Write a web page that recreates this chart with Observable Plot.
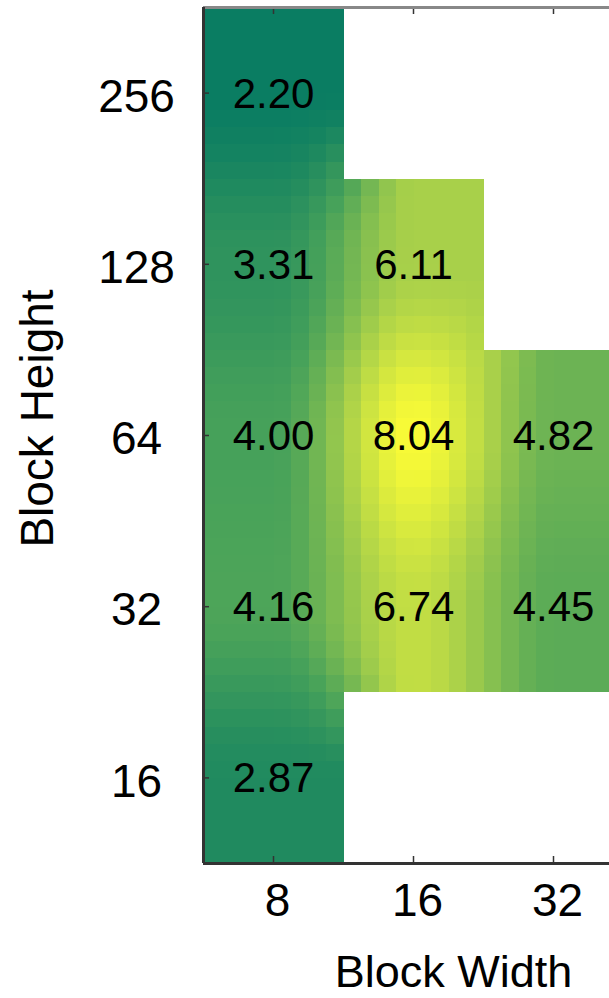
<!DOCTYPE html>
<html>
<head>
<meta charset="utf-8">
<script src="https://cdn.jsdelivr.net/npm/d3@7"></script>
<script src="https://cdn.jsdelivr.net/npm/@observablehq/plot@0.6"></script>
<style>
html, body { margin: 0; padding: 0; background: #fff; overflow: hidden; }
#chart { width: 609px; height: 998px; overflow: hidden; }
</style>
</head>
<body>
<div id="chart"></div>
<script>
// Tick labels
const widthTicks = [8, 16, 32];
const heightTicks = [16, 32, 64, 128, 256];
// Heatmap cells (block width × block height → value)
const blockWidth  = [8, 8, 16, 8, 16, 32, 8, 16, 32, 8];
const blockHeight = [256, 128, 128, 64, 64, 64, 32, 32, 32, 16];
const speedup     = [2.20, 3.31, 6.11, 4.00, 8.04, 4.82, 4.16, 6.74, 4.45, 2.87];
// Colour map stops
const colorStops = [2.2, 4.0, 6.11, 8.04];
const colorRange = ["#0a7d62", "#46a15a", "#a8d04a", "#f9fb36"];

const cells = blockWidth.map((w, i) => ({w, h: blockHeight[i], v: speedup[i]}));
const lookup = new Map(cells.map(d => [`${Math.log2(d.w)},${Math.log2(d.h)}`, d.v]));
const get = (i, j) => lookup.get(`${i},${j}`);
const [lxMin, lxMax] = d3.extent(widthTicks, Math.log2);
const [lyMin, lyMax] = d3.extent(heightTicks, Math.log2);
const ease = t => t * t * (3 - 2 * t);

// smooth shading between cell centres, blank where no cell exists
function shade(w, h) {
  const lx = Math.log2(w), ly = Math.log2(h);
  if (get(Math.round(lx), Math.round(ly)) === undefined) return NaN;
  const cx = Math.max(lxMin, Math.min(lxMax, lx));
  const cy = Math.max(lyMin, Math.min(lyMax, ly));
  const x0 = Math.min(Math.floor(cx), lxMax - 1), y0 = Math.min(Math.floor(cy), lyMax - 1);
  const fx = ease(cx - x0), fy = ease(cy - y0);
  let s = 0, ws = 0;
  for (const [i, j, wt] of [[x0, y0, (1 - fx) * (1 - fy)], [x0 + 1, y0, fx * (1 - fy)], [x0, y0 + 1, (1 - fx) * fy], [x0 + 1, y0 + 1, fx * fy]]) {
    const v = get(i, j);
    if (v !== undefined && wt > 0) { s += v * wt; ws += wt; }
  }
  return ws > 0 ? s / ws : NaN;
}

const S = Math.SQRT2;
const xDomain = [widthTicks[0] / S, widthTicks[widthTicks.length - 1] * S];
const yDomain = [heightTicks[0] / S, heightTicks[heightTicks.length - 1] * S];

const W = 609, H = 998, mL = 203, mT = 7, mB = 135, mR = 0;
const frameW = W - mL - mR, frameH = H - mT - mB;
const font = "'Liberation Sans', Arial, Helvetica, sans-serif";

const plot = Plot.plot({
  width: W, height: H,
  marginLeft: mL, marginTop: mT, marginBottom: mB, marginRight: mR,
  style: {fontFamily: font, background: "#fff", color: "#000"},
  x: {type: "log", base: 2, domain: xDomain, range: [mL, mL + 420], axis: null},
  y: {type: "log", base: 2, domain: yDomain, axis: null},
  color: {type: "linear", domain: colorStops, range: colorRange},
  marks: [
    Plot.raster({
      fill: shade,
      x1: xDomain[0], x2: xDomain[1], y1: yDomain[0], y2: yDomain[1],
      width: widthTicks.length * 8, height: heightTicks.length * 10,
      imageRendering: "pixelated"
    }),
    Plot.text(cells, {x: "w", y: "h", text: d => d.v.toFixed(2), fontSize: 42, fill: "#000", dy: 1}),
    // inward tick marks
    Plot.tickX(widthTicks, {x: d => d, insetTop: frameH - 7, stroke: "#333", strokeWidth: 1.5}),
    Plot.tickX(widthTicks, {x: d => d, insetBottom: frameH - 7, stroke: "#333", strokeWidth: 1.5}),
    Plot.tickY(heightTicks, {y: d => d, insetRight: frameW - 6, stroke: "#333", strokeWidth: 1.5}),
    // axis lines
    Plot.ruleY([yDomain[1]], {stroke: "#888", strokeWidth: 3}),
    Plot.ruleX([xDomain[0]], {stroke: "#333", strokeWidth: 3}),
    Plot.ruleY([yDomain[0]], {stroke: "#333", strokeWidth: 3}),
    // tick labels
    Plot.axisX(widthTicks, {tickSize: 0, tickPadding: 20, fontSize: 46, label: null, tickFormat: d => `${d}`, dx: 4, fill: "#000"}),
    Plot.axisY(heightTicks, {tickSize: 0, tickPadding: 67, textAnchor: "middle", fontSize: 46, label: null, tickFormat: d => `${d}`, dy: 4, fill: "#000"}),
    // axis titles
    Plot.text(["Block Width"], {text: d => d, frameAnchor: "bottom", dx: 47, dy: 109, fontSize: 45, lineAnchor: "middle", textAnchor: "middle", fill: "#000"}),
    Plot.text(["Block Height"], {text: d => d, frameAnchor: "left", rotate: -90, dx: -165, dy: -17, fontSize: 46, lineAnchor: "middle", textAnchor: "middle", fill: "#000"})
  ]
});
document.getElementById("chart").appendChild(plot);
</script>
</body>
</html>
